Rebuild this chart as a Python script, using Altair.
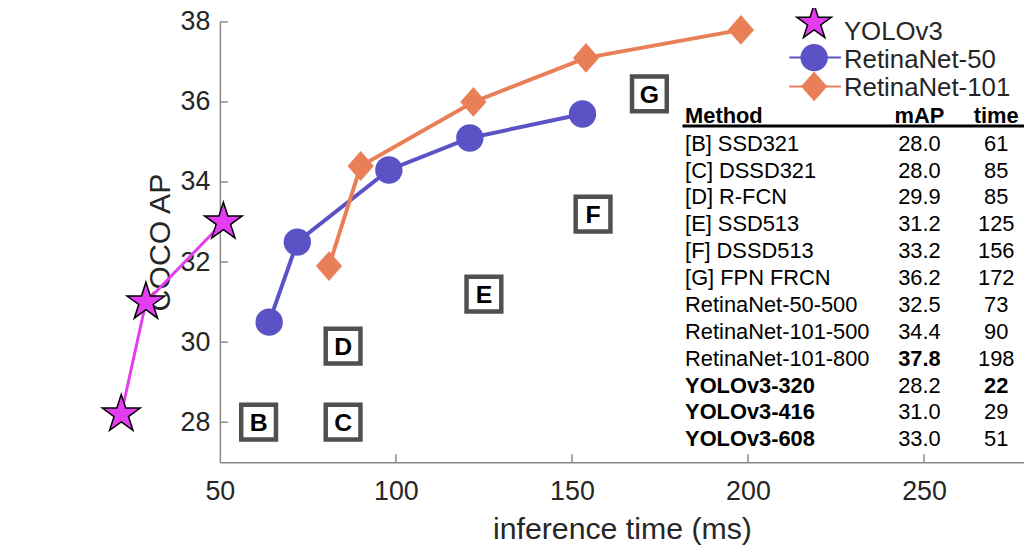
import altair as alt
import pandas as pd

FONT = "Liberation Sans"
TXT = "#262626"

# ---- series data ----
series_names = ["YOLOv3", "RetinaNet-50", "RetinaNet-101"]
yolo_time = [22, 29, 51]
yolo_ap = [28.2, 31.0, 33.0]
r50_time = [64, 72, 98, 121, 153]
r50_ap = [30.5, 32.5, 34.3, 35.1, 35.7]
r101_time = [81, 90, 122, 154, 198]
r101_ap = [31.9, 34.4, 36.0, 37.1, 37.8]

# ---- other methods (boxed letters) ----
box_labels = ["B", "C", "D", "E", "F", "G"]
box_time = [61, 85, 85, 125, 156, 172]
box_ap = [28.0, 28.0, 29.9, 31.2, 33.2, 36.2]

# ---- table ----
table_header = ["Method", "mAP", "time"]
table_methods = ["[B] SSD321", "[C] DSSD321", "[D] R-FCN", "[E] SSD513", "[F] DSSD513",
                 "[G] FPN FRCN", "RetinaNet-50-500", "RetinaNet-101-500", "RetinaNet-101-800",
                 "YOLOv3-320", "YOLOv3-416", "YOLOv3-608"]
table_map = ["28.0", "28.0", "29.9", "31.2", "33.2", "36.2", "32.5", "34.4", "37.8",
             "28.2", "31.0", "33.0"]
table_time = ["61", "85", "85", "125", "156", "172", "73", "90", "198", "22", "29", "51"]
bold_method = [False] * 9 + [True] * 3
bold_map = [False] * 8 + [True] + [False] * 3
bold_time = [False] * 9 + [True] + [False] * 2

# ---- axis ticks ----
x_ticks = [50, 100, 150, 200, 250]
y_ticks = [28, 30, 32, 34, 36, 38]
x_inner_ticks = [100, 150, 200, 250]

W = 810
H = 443.6

xs = alt.Scale(domain=[50, 278.4], nice=False, zero=False)
ys = alt.Scale(domain=[27, 38], nice=False, zero=False)

x_axis = alt.Axis(values=x_ticks, title="inference time (ms)", ticks=False, grid=False,
                  labelFlush=False, labelOverlap=False, labelFontSize=27, labelPadding=17,
                  labelColor=TXT, labelFont=FONT, domainColor="#8a8a8a", domainWidth=1.5,
                  titleFontSize=30.5, titleFontWeight="normal", titleColor=TXT, titleFont=FONT,
                  titleY=77, titleBaseline="alphabetic")
y_axis = alt.Axis(values=y_ticks, title="COCO AP", ticks=False, grid=False,
                  labelFlush=False, labelOverlap=False, labelFontSize=27, labelPadding=10,
                  labelColor=TXT, labelFont=FONT, domainColor="#8a8a8a", domainWidth=1.5,
                  titleFontSize=30.5, titleFontWeight="normal", titleColor=TXT, titleFont=FONT,
                  titleX=-51, titleY=H / 2, titleAngle=270, titleAlign="center",
                  titleBaseline="alphabetic")

X = alt.X("t:Q", scale=xs, axis=x_axis)
Y = alt.Y("ap:Q", scale=ys, axis=y_axis)

STAR = ("M0,-1 L0.2245,-0.309 L0.9511,-0.309 L0.3633,0.118 L0.5878,0.809 L0,0.382 "
        "L-0.5878,0.809 L-0.3633,0.118 L-0.9511,-0.309 L-0.2245,-0.309 Z")
DIAMOND = "M0,-1 L0.88,0 L0,1 L-0.88,0 Z"

C_YOLO = "#E43CF0"
C_R50 = "#5A52C5"
C_R101 = "#E97F57"

yolo = pd.DataFrame({"t": yolo_time, "ap": yolo_ap})
r50 = pd.DataFrame({"t": r50_time, "ap": r50_ap})
r101 = pd.DataFrame({"t": r101_time, "ap": r101_ap})
boxes = pd.DataFrame({"t": box_time, "ap": box_ap, "lab": box_labels})

layers = []
layers.append(alt.Chart(yolo).mark_line(color=C_YOLO, strokeWidth=3).encode(x=X, y=Y))
layers.append(alt.Chart(yolo).mark_point(shape=STAR, size=1600, filled=True, fill=C_YOLO,
                                         stroke="black", strokeWidth=1.5, opacity=1).encode(x=X, y=Y))
layers.append(alt.Chart(r50).mark_line(color=C_R50, strokeWidth=4).encode(x=X, y=Y))
layers.append(alt.Chart(r50).mark_point(shape="circle", size=760, filled=True, color=C_R50,
                                        opacity=1).encode(x=X, y=Y))
layers.append(alt.Chart(r101).mark_line(color=C_R101, strokeWidth=4).encode(x=X, y=Y))
layers.append(alt.Chart(r101).mark_point(shape=DIAMOND, size=900, filled=True, color=C_R101,
                                         opacity=1).encode(x=X, y=Y))
layers.append(alt.Chart(boxes).mark_point(shape="square", size=1225, filled=True, fill="white",
                                          stroke="#505050", strokeWidth=4.5, opacity=1).encode(x=X, y=Y))
layers.append(alt.Chart(boxes).mark_text(font=FONT, fontSize=25, fontWeight="bold", color="black",
                                         align="center", baseline="alphabetic", dy=9)
              .encode(x=X, y=Y, text="lab:N"))

# inward ticks (same fields as main layers so the axes merge)
ytk = pd.DataFrame({"ap": y_ticks})
xtk = pd.DataFrame({"t": x_inner_ticks})
layers.append(alt.Chart(ytk).mark_rule(color="#8a8a8a", strokeWidth=1.5)
              .encode(y=Y, x=alt.value(0), x2=alt.value(8)))
layers.append(alt.Chart(xtk).mark_rule(color="#8a8a8a", strokeWidth=1.5)
              .encode(x=X, y=alt.value(H - 8), y2=alt.value(H)))

# table
col_x = {"method": 468.6, "map": 704.6, "time": 782.0}
ROW0 = 129.8
ROWH = 27.07
cols = [("method", table_methods, bold_method), ("map", table_map, bold_map),
        ("time", table_time, bold_time)]
for i in range(len(table_methods)):
    for col, vals, bolds in cols:
        align = "left" if col == "method" else "center"
        layers.append(alt.Chart(pd.DataFrame({"v": [vals[i]]})).mark_text(
            font=FONT, fontSize=22, align=align, baseline="alphabetic", color="black",
            fontWeight="bold" if bolds[i] else "normal")
            .encode(x=alt.value(col_x[col]), y=alt.value(ROW0 + i * ROWH), text="v:N"))

for name, col in zip(table_header, ["method", "map", "time"]):
    align = "left" if col == "method" else "center"
    layers.append(alt.Chart(pd.DataFrame({"h": [name]})).mark_text(
        font=FONT, fontSize=22, fontWeight="bold", align=align, baseline="alphabetic", color="black")
        .encode(x=alt.value(col_x[col]), y=alt.value(102), text="h:N"))
layers.append(alt.Chart(pd.DataFrame({"h": [0]})).mark_rule(color="black", strokeWidth=3)
              .encode(x=alt.value(466), x2=alt.value(W + 5), y=alt.value(105)))

# legend
leg_sym_x = 598.6
leg_text_x = 628.6
leg_sym_y = [1, 36, 65]
leg_text_y = [18.5, 46.5, 74.5]
leg_df = [pd.DataFrame({"name": [n]}) for n in series_names]
layers.append(alt.Chart(leg_df[1]).mark_rule(color=C_R50, strokeWidth=2)
              .encode(x=alt.value(leg_sym_x - 25), x2=alt.value(leg_sym_x + 27), y=alt.value(leg_sym_y[1])))
layers.append(alt.Chart(leg_df[2]).mark_rule(color=C_R101, strokeWidth=2)
              .encode(x=alt.value(leg_sym_x - 25), x2=alt.value(leg_sym_x + 27), y=alt.value(leg_sym_y[2])))
layers.append(alt.Chart(leg_df[0]).mark_point(shape=STAR, size=1350, filled=True, fill=C_YOLO,
                                              stroke="black", strokeWidth=1.5, opacity=1)
              .encode(x=alt.value(leg_sym_x), y=alt.value(leg_sym_y[0])))
layers.append(alt.Chart(leg_df[1]).mark_point(shape="circle", size=760, filled=True, color=C_R50, opacity=1)
              .encode(x=alt.value(leg_sym_x), y=alt.value(leg_sym_y[1])))
layers.append(alt.Chart(leg_df[2]).mark_point(shape=DIAMOND, size=900, filled=True, color=C_R101, opacity=1)
              .encode(x=alt.value(leg_sym_x), y=alt.value(leg_sym_y[2])))
for i in range(3):
    layers.append(alt.Chart(leg_df[i]).mark_text(font=FONT, fontSize=26, align="left",
                                                 baseline="alphabetic", color=TXT)
                  .encode(x=alt.value(leg_text_x), y=alt.value(leg_text_y[i]), text="name:N"))

chart = alt.layer(*layers).properties(
    width=W, height=H,
    padding={"left": 213.4, "top": 12, "right": 0, "bottom": 86},
    autosize=alt.AutoSizeParams(type="none"),
    background="white",
).configure_view(stroke=None)

chart.save("out.html", embed_options={"renderer": "svg", "actions": False})
